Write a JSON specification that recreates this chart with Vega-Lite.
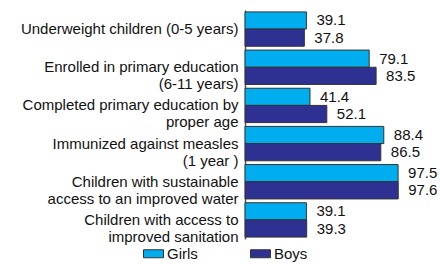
{
  "$schema": "https://vega.github.io/schema/vega-lite/v6.json",
  "width": 157,
  "height": 229,
  "autosize": {"type": "none"},
  "padding": {"left": 245, "top": 10, "right": 38, "bottom": 25},
  "background": "white",
  "config": {
    "view": {"stroke": null},
    "font": "Liberation Sans",
    "text": {"font": "Liberation Sans"}
  },
  "data": {
    "values": [
      {"cat": "Underweight children (0-5 years)", "sex": "Girls", "v": 39.1},
      {"cat": "Underweight children (0-5 years)", "sex": "Boys", "v": 37.8},
      {"cat": "Enrolled in primary education|(6-11 years)", "sex": "Girls", "v": 79.1},
      {"cat": "Enrolled in primary education|(6-11 years)", "sex": "Boys", "v": 83.5},
      {"cat": "Completed primary education by|proper age", "sex": "Girls", "v": 41.4},
      {"cat": "Completed primary education by|proper age", "sex": "Boys", "v": 52.1},
      {"cat": "Immunized against measles|(1 year )", "sex": "Girls", "v": 88.4},
      {"cat": "Immunized against measles|(1 year )", "sex": "Boys", "v": 86.5},
      {"cat": "Children with sustainable|access to an improved water", "sex": "Girls", "v": 97.5},
      {"cat": "Children with sustainable|access to an improved water", "sex": "Boys", "v": 97.6},
      {"cat": "Children with access to|improved sanitation", "sex": "Girls", "v": 39.1},
      {"cat": "Children with access to|improved sanitation", "sex": "Boys", "v": 39.3}
    ]
  },
  "encoding": {
    "y": {
      "field": "cat",
      "type": "nominal",
      "sort": null,
      "scale": {"paddingInner": 0.1, "paddingOuter": 0.05},
      "axis": {
        "title": null,
        "ticks": false,
        "domainColor": "#555555",
        "domainWidth": 1.5,
        "labelPadding": 7,
        "labelFontSize": 15,
        "labelColor": "#111111",
        "labelFont": "Liberation Sans",
        "labelLineHeight": 17,
        "labelLimit": 0,
        "labelExpr": "split(datum.label, '|')"
      }
    },
    "yOffset": {"field": "sex", "type": "nominal", "sort": ["Girls", "Boys"]},
    "x": {
      "field": "v",
      "type": "quantitative",
      "scale": {"domain": [0, 100]},
      "axis": null
    }
  },
  "layer": [
    {
      "mark": {"type": "bar", "stroke": "#333333", "strokeWidth": 1},
      "encoding": {
        "color": {
          "field": "sex",
          "type": "nominal",
          "sort": ["Girls", "Boys"],
          "scale": {"domain": ["Girls", "Boys"], "range": ["#00AEEF", "#2E3192"]},
          "legend": {
            "title": null,
            "orient": "none",
            "direction": "horizontal",
            "legendX": -102,
            "legendY": 233,
            "padding": 0,
            "symbolType": "M-1,-0.4H1V0.4H-1Z",
            "symbolSize": 400,
            "symbolStrokeColor": "#333333",
            "symbolStrokeWidth": 1,
            "labelFontSize": 15,
            "labelFont": "Liberation Sans",
            "labelColor": "#111111",
            "labelOffset": 3,
            "columnPadding": 50
          }
        }
      }
    },
    {
      "mark": {"type": "text", "align": "left", "dx": 10, "fontSize": 15, "color": "#111111", "baseline": "middle"},
      "encoding": {
        "text": {"field": "v", "type": "quantitative", "format": ".1f"}
      }
    }
  ]
}
